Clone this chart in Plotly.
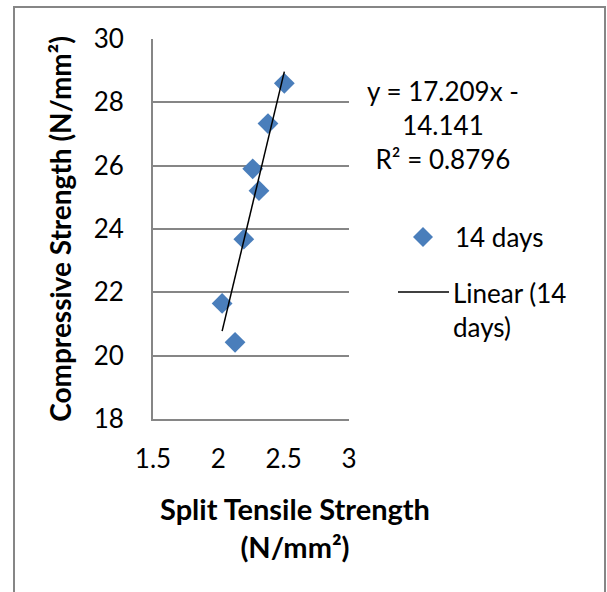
import plotly.graph_objects as go

# Data
split_tensile = [2.505, 2.380, 2.263, 2.311, 2.195, 2.029, 2.128]
compressive = [28.60, 27.33, 25.90, 25.21, 23.68, 21.65, 20.42]
slope = 17.209
intercept = -14.141
r_squared = 0.8796
series_name = "14 days"
trend_name = "Linear (14<br>days)"
x_title = "<b>Split Tensile Strength<br>(N/mm²)</b>"
y_title = "<b>Compressive Strength (N/mm²)</b>"
x_ticks = [1.5, 2, 2.5, 3]
y_ticks = [18, 20, 22, 24, 26, 28, 30]

FONT = "Lato"
GRAY = "#868686"
BLUE = "#4A7EBB"
FS = 26

W, H = 607, 592
L, R, T, B = 153, 258, 39, 173
pw = W - L - R
ph = H - T - B

def px(x):
    return (x - L) / pw

def py(y):
    return 1 - (y - T) / ph

x_min, x_max = min(split_tensile), max(split_tensile)
trend_x = [x_min, x_max]
trend_y = [slope * v + intercept for v in trend_x]

fig = go.Figure()
fig.add_trace(go.Scatter(
    x=split_tensile, y=compressive, mode="markers",
    marker=dict(symbol="diamond", size=16, color=BLUE, line=dict(width=0)),
    showlegend=False, cliponaxis=False))
fig.add_trace(go.Scatter(
    x=trend_x, y=trend_y, mode="lines",
    line=dict(color="black", width=1.5), showlegend=False))

# legend diamond (paper-space path)
cx, cy, hw = 423, 237, 10
diamond = (f"M {px(cx-hw)} {py(cy)} L {px(cx)} {py(cy-hw)} "
           f"L {px(cx+hw)} {py(cy)} L {px(cx)} {py(cy+hw)} Z")

fig.update_layout(
    width=W, height=H,
    margin=dict(l=L, r=R, t=T, b=B),
    paper_bgcolor="white", plot_bgcolor="white",
    font=dict(family=FONT, size=FS, color="black"),
    xaxis=dict(range=[1.5, 3], tickvals=x_ticks, ticktext=[str(v) for v in x_ticks],
               showgrid=False, zeroline=False, showline=True, linecolor=GRAY,
               linewidth=2, ticks="", tickfont=dict(size=FS), ticklabelstandoff=16),
    yaxis=dict(range=[18, 30], tickvals=y_ticks, showgrid=True, gridcolor=GRAY,
               gridwidth=1.5, zeroline=False, showline=True, linecolor=GRAY,
               linewidth=2, ticks="", tickfont=dict(size=FS), ticklabelstandoff=22,
               title=dict(text=y_title, font=dict(size=28), standoff=14)),
    shapes=[
        dict(type="rect", xref="paper", yref="paper", x0=px(14), x1=px(605),
             y0=py(640), y1=py(7), line=dict(color=GRAY, width=2), layer="below"),
        dict(type="path", xref="paper", yref="paper", path=diamond,
             fillcolor=BLUE, line=dict(width=0)),
        dict(type="line", xref="paper", yref="paper", x0=px(398), x1=px(449),
             y0=py(292), y1=py(292), line=dict(color="black", width=1.5)),
    ],
    annotations=[
        dict(xref="paper", yref="paper", x=px(295), y=py(527), showarrow=False,
             text=x_title, font=dict(size=29), align="center",
             xanchor="center", yanchor="middle"),
        dict(xref="paper", yref="paper", x=px(443), y=py(125), showarrow=False,
             text=f"y = {slope}x -<br>{abs(intercept)}<br>R² = {r_squared}",
             font=dict(size=FS), align="center", yanchor="middle", xanchor="center"),
        dict(xref="paper", yref="paper", x=px(453), y=py(237), showarrow=False,
             text=series_name, font=dict(size=FS), xanchor="left", yanchor="middle"),
        dict(xref="paper", yref="paper", x=px(451), y=py(292), showarrow=False,
             text=trend_name, font=dict(size=FS), xanchor="left",
             yanchor="top", yshift=17, align="left"),
    ],
)

fig.write_html("out.html")
